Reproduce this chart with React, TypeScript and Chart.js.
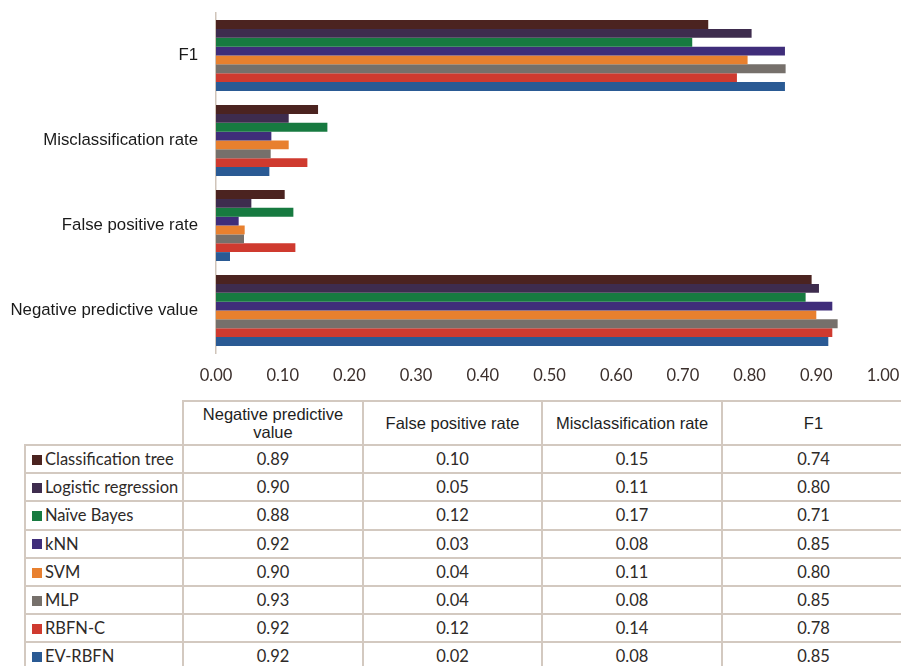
import React, { useEffect, useRef } from "react";
import { Chart, registerables } from "chart.js";

Chart.register(...registerables);

const categories = ["F1", "Misclassification rate", "False positive rate", "Negative predictive value"];
const tableHeaders = ["Negative predictive value", "False positive rate", "Misclassification rate", "F1"];
const models = ["Classification tree", "Logistic regression", "Naïve Bayes", "kNN", "SVM", "MLP", "RBFN-C", "EV-RBFN"];
const colors = ["#4b2320", "#3e2c4e", "#177a40", "#3f2d7a", "#e8802f", "#76706b", "#cf3a2f", "#2a5a94"];

// values per model, order: Negative predictive value, False positive rate, Misclassification rate, F1
const classificationTree = [0.893, 0.103, 0.153, 0.738];
const logisticRegression = [0.904, 0.053, 0.109, 0.803];
const naiveBayes = [0.884, 0.116, 0.167, 0.714];
const kNN = [0.924, 0.034, 0.083, 0.853];
const svm = [0.9, 0.043, 0.109, 0.797];
const mlp = [0.932, 0.042, 0.082, 0.854];
const rbfnC = [0.924, 0.119, 0.137, 0.781];
const evRbfn = [0.918, 0.021, 0.08, 0.853];
const seriesValues = [classificationTree, logisticRegression, naiveBayes, kNN, svm, mlp, rbfnC, evRbfn];

const xTicks = [0, 0.1, 0.2, 0.3, 0.4, 0.5, 0.6, 0.7, 0.8, 0.9, 1.0];

const BORDER = "2px solid #d3c9c0";

function zeroPad(scale: any) {
  scale.paddingTop = 0;
  scale.paddingBottom = 0;
  scale.paddingLeft = 0;
  scale.paddingRight = 0;
}

export default function App() {
  const canvasRef = useRef<HTMLCanvasElement | null>(null);

  useEffect(() => {
    if (!canvasRef.current) return;
    const datasets = models.map((m, i) => ({
      label: m,
      data: [...seriesValues[i]].reverse(),
      backgroundColor: colors[i],
      borderWidth: 0,
      categoryPercentage: 0.835,
      barPercentage: 1.0,
    }));
    const chart = new Chart(canvasRef.current, {
      type: "bar",
      data: { labels: categories, datasets },
      options: {
        indexAxis: "y",
        animation: false,
        responsive: false,
        maintainAspectRatio: false,
        layout: { padding: { top: 13, right: 18, left: 0, bottom: 0 } },
        plugins: { legend: { display: false }, tooltip: { enabled: false } },
        scales: {
          x: {
            min: 0,
            max: 1,
            afterBuildTicks: (scale: any) => {
              scale.ticks = xTicks.map((v) => ({ value: v }));
            },
            afterFit: (scale: any) => {
              scale.height = 42;
              zeroPad(scale);
            },
            grid: { display: false, drawTicks: false },
            border: { display: false },
            ticks: {
              padding: 13,
              color: "#3b2f2c",
              font: { family: "Lato", size: 16.5 },
              callback: (v: any) => Number(v).toFixed(2),
              maxRotation: 0,
            },
          },
          y: {
            afterFit: (scale: any) => {
              scale.width = 216;
              zeroPad(scale);
            },
            grid: { display: false, drawTicks: false },
            border: { display: true, color: "#cfc4b9", width: 1.5 },
            ticks: {
              padding: 18,
              color: "#1a1a1a",
              font: { family: "Liberation Sans", size: 16.8 },
            },
          },
        },
      },
    });
    return () => chart.destroy();
  }, []);

  const cellBase: React.CSSProperties = {
    border: BORDER,
    textAlign: "center",
    padding: 0,
    fontFamily: "Lato",
    fontSize: 16.5,
    color: "#2e2a28",
  };

  return (
    <div style={{ position: "absolute", left: 0, top: 0, width: 901, height: 666, overflow: "hidden", background: "#fff" }}>
      <canvas ref={canvasRef} width={901} height={395} style={{ position: "absolute", left: 0, top: 0, width: 901, height: 395 }} />
      <table
        style={{
          position: "absolute",
          left: 24,
          top: 400,
          borderCollapse: "collapse",
          tableLayout: "fixed",
          width: 880,
        }}
      >
        <colgroup>
          <col style={{ width: 158 }} />
          <col style={{ width: 180 }} />
          <col style={{ width: 179 }} />
          <col style={{ width: 180 }} />
          <col style={{ width: 183 }} />
        </colgroup>
        <thead>
          <tr style={{ height: 44 }}>
            <th style={{ border: "none", borderBottom: BORDER, borderRight: BORDER }}></th>
            {tableHeaders.map((h, j) => (
              <th
                key={j}
                style={{
                  ...cellBase,
                  fontFamily: "Liberation Sans",
                  fontWeight: "normal",
                  fontSize: 16.5,
                  color: "#1e1e1e",
                  lineHeight: "18px",
                  padding: "0 4px",
                  verticalAlign: "middle",
                }}
              >
                {h}
              </th>
            ))}
          </tr>
        </thead>
        <tbody>
          {models.map((m, i) => (
            <tr key={m} style={{ height: 28.2 }}>
              <td style={{ ...cellBase, textAlign: "left", paddingLeft: 6, whiteSpace: "nowrap" }}>
                <span
                  style={{
                    display: "inline-block",
                    width: 10,
                    height: 10,
                    background: colors[i],
                    marginRight: 3,
                    verticalAlign: "middle",
                    position: "relative",
                    top: -1,
                  }}
                />
                {m}
              </td>
              {seriesValues[i].map((v, j) => (
                <td key={j} style={cellBase}>
                  {v.toFixed(2)}
                </td>
              ))}
            </tr>
          ))}
        </tbody>
      </table>
    </div>
  );
}
